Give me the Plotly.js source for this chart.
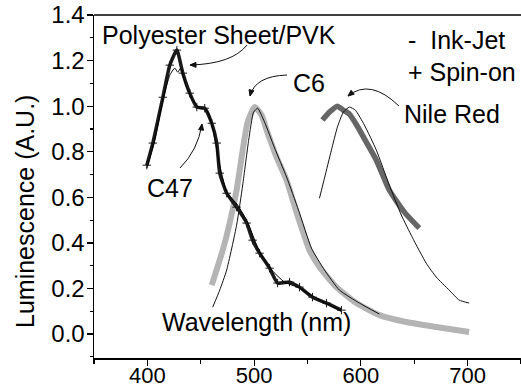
<!DOCTYPE html>
<html>
<head>
<meta charset="utf-8">
<script src="https://cdn.plot.ly/plotly-3.0.1.min.js"></script>
<style>html,body{margin:0;padding:0;background:#fff;}#chart{width:521px;height:389px;}</style>
</head>
<body>
<div id="chart"></div>
<script>
// C47 (Polyester Sheet/PVK) - spin-on
var c47SpinX = [399.5,405.1,414.5,421,427.6,433.2,439.7,446.3,453.7,460.3,465,467.8,474.3,483.6,493,498.6,505.1,514.5,522,533.2,542.5,554.7,567.8,581.8];
var c47SpinY = [0.741,0.838,1.039,1.18,1.246,1.145,1.057,0.996,0.991,0.925,0.838,0.706,0.618,0.557,0.487,0.412,0.355,0.289,0.224,0.228,0.206,0.162,0.136,0.105];
// C47 - ink-jet
var c47InkX = [399.5,407,414.5,421,425.7,428.5,431.3,436,442.5,449,455.6,461.2,466.8,474.3,484.6,493.9,505.1,516.4,528.5,542.5,556.5,570.6,581.8];
var c47InkY = [0.728,0.851,1.026,1.136,1.167,1.149,1.167,1.092,1.026,0.991,0.982,0.904,0.763,0.623,0.566,0.491,0.36,0.281,0.228,0.202,0.162,0.127,0.101];
// C6 - spin-on
var c6SpinX = [460.3,470.6,477.1,483.6,489.3,493.9,500.5,507,511.7,521,530.4,539.7,551.9,561.2,577.1,595.8,617.3,642.5,670.6,701.4];
var c6SpinY = [0.215,0.368,0.487,0.632,0.807,0.93,0.996,0.96,0.895,0.776,0.675,0.535,0.368,0.294,0.206,0.136,0.083,0.053,0.031,0.009];
// C6 - ink-jet
var c6InkX = [461.2,467.8,474.3,483.6,489.3,494.9,499.5,503.3,509.8,519.2,530.4,541.6,553.7,565.9,579.9,598.6,617.3];
var c6InkY = [0.118,0.193,0.281,0.478,0.654,0.851,0.974,0.991,0.93,0.816,0.689,0.544,0.377,0.281,0.193,0.136,0.088];
// Nile Red - spin-on
var nrSpinX = [564,570.6,578,583.6,589.3,596.7,605.1,614.5,626.6,640.7,654.7];
var nrSpinY = [0.939,0.974,1.0,0.982,0.965,0.912,0.842,0.763,0.632,0.535,0.465];
// Nile Red - ink-jet
var nrInkX = [561.2,565.9,572.4,578,583.6,589.3,594.9,603.3,614.5,626.6,637.9,648.1,661.2,670.6,682.7,692.1,701.4];
var nrInkY = [0.596,0.684,0.807,0.908,0.974,0.996,0.982,0.917,0.807,0.654,0.522,0.425,0.311,0.25,0.193,0.149,0.136];

var xTicks = [400,500,600,700];
var yTicks = [0.0,0.2,0.4,0.6,0.8,1.0,1.2,1.4];
var yTickText = ['0.0','0.2','0.4','0.6','0.8','1.0','1.2','1.4'];

var FONT = 'Liberation Sans, Arial, Helvetica, sans-serif';

var traces = [
  {x:c6SpinX, y:c6SpinY, mode:'lines', line:{color:'#b4b4b4', width:6, shape:'spline', smoothing:0.5}, name:'C6 spin-on'},
  {x:c6InkX, y:c6InkY, mode:'lines', line:{color:'#111', width:1, shape:'spline', smoothing:0.5}, name:'C6 ink-jet'},
  {x:nrSpinX, y:nrSpinY, mode:'lines', line:{color:'#666', width:5.5, shape:'spline', smoothing:0.5}, name:'Nile Red spin-on'},
  {x:nrInkX, y:nrInkY, mode:'lines', line:{color:'#111', width:1, shape:'spline', smoothing:0.5}, name:'Nile Red ink-jet'},
  {x:c47SpinX, y:c47SpinY, mode:'lines+markers', line:{color:'#1a1a1a', width:3.5, shape:'spline', smoothing:0.5},
   marker:{symbol:'cross-thin', size:6, line:{color:'#1a1a1a', width:1}}, name:'C47 spin-on'},
  {x:c47InkX, y:c47InkY, mode:'lines', line:{color:'#000', width:1, shape:'spline', smoothing:0.5}, name:'C47 ink-jet'}
];

// pixel -> data helpers for decorative callout lines
function DX(px){ return 350 + (px-94)/1.0675; }
function DY(py){ return (334-py)/227.86; }
function P(px,py){ return DX(px)+','+DY(py); }
function curve(s, c, t){
  return {type:'path', xref:'x', yref:'y', path:'M'+P(s[0],s[1])+' Q'+P(c[0],c[1])+' '+P(t[0],t[1]), line:{color:'#111', width:1}};
}
function head(c, t){
  var dx=t[0]-c[0], dy=t[1]-c[1], L=Math.sqrt(dx*dx+dy*dy); dx/=L; dy/=L;
  var bx=t[0]-dx*6, by=t[1]-dy*6, nx=-dy*2.5, ny=dx*2.5;
  return {type:'path', xref:'x', yref:'y', path:'M'+P(t[0],t[1])+' L'+P(bx+nx,by+ny)+' L'+P(bx-nx,by-ny)+' Z', fillcolor:'#111', line:{color:'#111', width:1}};
}
var callouts = [
  [[247,45],[232,64],[190,65]],
  [[287,75],[255,76],[250,96]],
  [[399,106],[370,78],[348,96]],
  [[180,168],[198,150],[202,124]]
];
var shapes = [{type:'line', xref:'paper', yref:'paper', x0:0, x1:1, y0:1, y1:1, line:{color:'#000', width:1.5}}];
callouts.forEach(function(c){ shapes.push(curve(c[0],c[1],c[2])); shapes.push(head(c[1],c[2])); });

var AF = {family:FONT, size:25, color:'#000'};
var annotations = [
  {text:'Polyester Sheet/PVK', x:355.6, y:1.311, xref:'x', yref:'y', xanchor:'left', yanchor:'middle', showarrow:false, font:AF},
  {text:'-\u00a0\u00a0Ink-Jet', x:642.5, y:1.29, xref:'x', yref:'y', xanchor:'left', yanchor:'middle', showarrow:false, font:AF},
  {text:'+ Spin-on', x:642.5, y:1.15, xref:'x', yref:'y', xanchor:'left', yanchor:'middle', showarrow:false, font:AF},
  {text:'C6', x:535, y:1.10, xref:'x', yref:'y', xanchor:'left', yanchor:'middle', showarrow:false, font:AF},
  {text:'Nile Red', x:638.8, y:0.965, xref:'x', yref:'y', xanchor:'left', yanchor:'middle', showarrow:false, font:AF},
  {text:'C47', x:397.7, y:0.641, xref:'x', yref:'y', xanchor:'left', yanchor:'middle', showarrow:false, font:AF},
  {text:'Wavelength (nm)', x:411.7, y:0.053, xref:'x', yref:'y', xanchor:'left', yanchor:'middle', showarrow:false, font:AF},
  {text:'Luminescence (A.U.)', x:-0.1616, y:0.4286, xref:'paper', yref:'paper', xanchor:'center', yanchor:'middle', textangle:-90, showarrow:false, font:AF}
];

var layout = {
  width:521, height:389,
  margin:{l:94, r:0, t:15, b:31, pad:0},
  paper_bgcolor:'#fff', plot_bgcolor:'#fff',
  showlegend:false,
  font:{family:FONT, size:24, color:'#000'},
  xaxis:{range:[350,750], tickmode:'array', tickvals:xTicks, ticks:'outside', ticklen:6, tickwidth:1.2, tickcolor:'#000',
         ticklabelstandoff:-9,
         minor:{dtick:50, tick0:0, ticks:'outside', ticklen:4, tickcolor:'#000', showgrid:false},
         showline:true, linecolor:'#000', linewidth:1.5, showgrid:false, zeroline:false,
         tickfont:{family:FONT, size:22}},
  yaxis:{range:[-0.105,1.4], tickmode:'array', tickvals:yTicks, ticktext:yTickText, ticks:'outside', ticklen:6, tickwidth:1.2, tickcolor:'#000',
         ticklabelstandoff:-3,
         minor:{dtick:0.1, tick0:0, ticks:'outside', ticklen:3, tickcolor:'#000', showgrid:false},
         showline:true, linecolor:'#000', linewidth:1.5, showgrid:false, zeroline:false,
         tickfont:{family:FONT, size:24}},
  shapes:shapes,
  annotations:annotations
};

Plotly.newPlot('chart', traces, layout, {staticPlot:true, displayModeBar:false});
</script>
</body>
</html>
